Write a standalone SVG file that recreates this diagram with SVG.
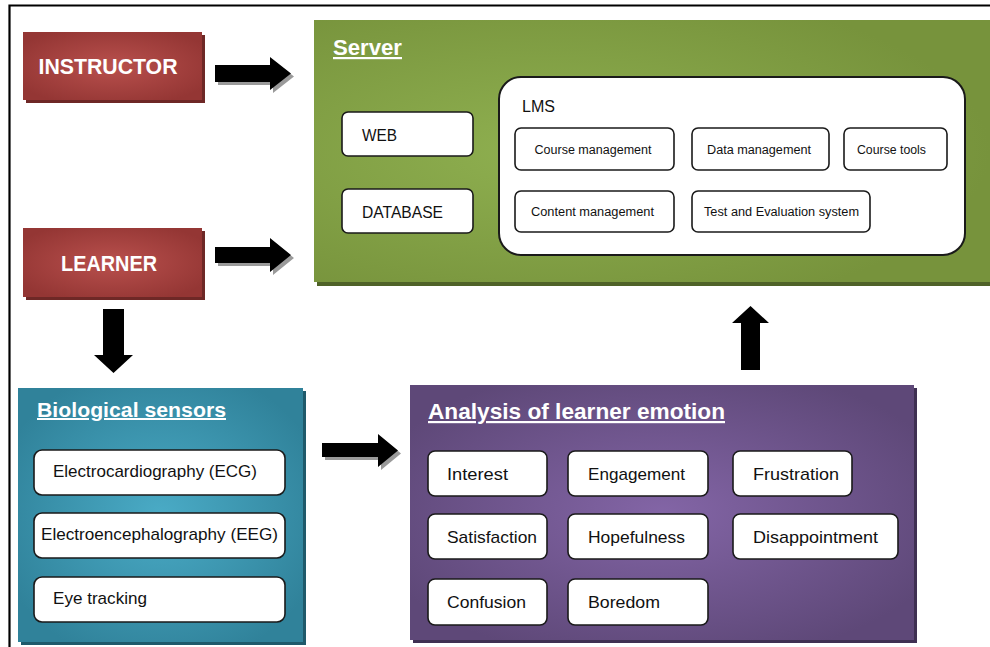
<svg xmlns="http://www.w3.org/2000/svg" width="990" height="647" viewBox="0 0 990 647">
<defs>
<radialGradient id="gRed" cx="50%" cy="50%" r="60%"><stop offset="0" stop-color="#b9504d"/><stop offset="1" stop-color="#943634"/></radialGradient>
<radialGradient id="gGreen" cx="35%" cy="50%" r="65%"><stop offset="0" stop-color="#8fb050"/><stop offset="1" stop-color="#77933c"/></radialGradient>
<radialGradient id="gTeal" cx="50%" cy="50%" r="60%"><stop offset="0" stop-color="#4aabc6"/><stop offset="1" stop-color="#30829a"/></radialGradient>
<radialGradient id="gPurple" cx="50%" cy="50%" r="60%"><stop offset="0" stop-color="#8365a6"/><stop offset="1" stop-color="#5e4878"/></radialGradient>
<style>
.lbl{font-family:"Liberation Sans",Arial,sans-serif;fill:#111}
.big{font-family:"Liberation Sans",Arial,sans-serif;font-weight:bold;fill:#fff}
.ttl{font-family:"Liberation Sans",Arial,sans-serif;font-weight:bold;fill:#fff;text-decoration:underline}
.box{fill:#fff;stroke:#1a1a1a;stroke-width:1.6}
.arr{fill:#000}
.ash{fill:#9a9a9a}
</style>
</defs>
<rect x="0" y="0" width="990" height="647" fill="#fff"/>
<path d="M9.5,647 V5.5 H990" fill="none" stroke="#000" stroke-width="2.2"/>

<g id="instructor">
<rect x="26" y="35" width="179" height="68" fill="#6e2826"/>
<rect x="23" y="32" width="179" height="68" fill="url(#gRed)"/>
<text class="big" x="108" y="74" font-size="22" text-anchor="middle" textLength="139" lengthAdjust="spacingAndGlyphs">INSTRUCTOR</text>
</g>
<g id="learner">
<rect x="26" y="231" width="179" height="69" fill="#6e2826"/>
<rect x="23" y="228" width="179" height="69" fill="url(#gRed)"/>
<text class="big" x="109" y="271" font-size="22" text-anchor="middle" textLength="96" lengthAdjust="spacingAndGlyphs">LEARNER</text>
</g>

<g id="server">
<rect x="317" y="23" width="673" height="263" fill="#4f6228"/>
<rect x="314" y="20" width="676" height="262" fill="url(#gGreen)"/>
<text class="ttl" x="333" y="55" font-size="22" textLength="69" lengthAdjust="spacingAndGlyphs">Server</text>
<g id="web"><rect class="box" x="342" y="112" width="131" height="44" rx="6"/>
<text class="lbl" x="362" y="141" font-size="16" textLength="35" lengthAdjust="spacingAndGlyphs">WEB</text></g>
<g id="database"><rect class="box" x="342" y="189" width="131" height="44" rx="6"/>
<text class="lbl" x="362" y="218" font-size="16" textLength="81" lengthAdjust="spacingAndGlyphs">DATABASE</text></g>
<g id="lms"><rect x="499" y="77" width="466" height="178" rx="22" fill="#fff" stroke="#1a1a1a" stroke-width="2"/>
<text class="lbl" x="522" y="112" font-size="16" textLength="33" lengthAdjust="spacingAndGlyphs">LMS</text></g>
<g id="course-management"><rect class="box" x="515" y="128" width="159" height="42" rx="6"/>
<text class="lbl" x="593" y="154" font-size="12.5" text-anchor="middle" textLength="117" lengthAdjust="spacingAndGlyphs">Course management</text></g>
<g id="data-management"><rect class="box" x="692" y="128" width="137" height="42" rx="6"/>
<text class="lbl" x="759" y="154" font-size="12.5" text-anchor="middle" textLength="104" lengthAdjust="spacingAndGlyphs">Data management</text></g>
<g id="course-tools"><rect class="box" x="844" y="128" width="103" height="42" rx="6"/>
<text class="lbl" x="891.5" y="154" font-size="12.5" text-anchor="middle" textLength="69" lengthAdjust="spacingAndGlyphs">Course tools</text></g>
<g id="content-management"><rect class="box" x="515" y="191" width="159" height="41" rx="6"/>
<text class="lbl" x="592.5" y="216" font-size="12.5" text-anchor="middle" textLength="123" lengthAdjust="spacingAndGlyphs">Content management</text></g>
<g id="test-evaluation"><rect class="box" x="692" y="191" width="178" height="41" rx="6"/>
<text class="lbl" x="781.5" y="216" font-size="12.5" text-anchor="middle" textLength="155" lengthAdjust="spacingAndGlyphs">Test and Evaluation system</text></g>
</g>

<g id="biological-sensors">
<rect x="21" y="391" width="285" height="254" fill="#1f5a6b"/>
<rect x="18" y="388" width="285" height="254" fill="url(#gTeal)"/>
<text class="ttl" x="37" y="417" font-size="20" textLength="189" lengthAdjust="spacingAndGlyphs">Biological sensors</text>
<g id="ecg"><rect class="box" x="34" y="450" width="251" height="45" rx="8"/>
<text class="lbl" x="53" y="477" font-size="17" textLength="204" lengthAdjust="spacingAndGlyphs">Electrocardiography (ECG)</text></g>
<g id="eeg"><rect class="box" x="34" y="513" width="251" height="45" rx="8"/>
<text class="lbl" x="41" y="540" font-size="17" textLength="237" lengthAdjust="spacingAndGlyphs">Electroencephalography (EEG)</text></g>
<g id="eye-tracking"><rect class="box" x="34" y="577" width="251" height="45" rx="8"/>
<text class="lbl" x="53" y="604" font-size="17" textLength="94" lengthAdjust="spacingAndGlyphs">Eye tracking</text></g>
</g>

<g id="analysis">
<rect x="413" y="388" width="504" height="255" fill="#3f3052"/>
<rect x="410" y="385" width="504" height="255" fill="url(#gPurple)"/>
<text class="ttl" x="428" y="419" font-size="22" textLength="297" lengthAdjust="spacingAndGlyphs">Analysis of learner emotion</text>
<g id="interest"><rect class="box" x="428" y="451" width="119" height="45" rx="7"/>
<text class="lbl" x="447" y="480" font-size="17" textLength="61" lengthAdjust="spacingAndGlyphs">Interest</text></g>
<g id="engagement"><rect class="box" x="568" y="451" width="140" height="45" rx="7"/>
<text class="lbl" x="588" y="480" font-size="17" textLength="97" lengthAdjust="spacingAndGlyphs">Engagement</text></g>
<g id="frustration"><rect class="box" x="733" y="451" width="119" height="45" rx="7"/>
<text class="lbl" x="753" y="480" font-size="17" textLength="86" lengthAdjust="spacingAndGlyphs">Frustration</text></g>
<g id="satisfaction"><rect class="box" x="428" y="514" width="119" height="45" rx="7"/>
<text class="lbl" x="447" y="543" font-size="17" textLength="90" lengthAdjust="spacingAndGlyphs">Satisfaction</text></g>
<g id="hopefulness"><rect class="box" x="568" y="514" width="140" height="45" rx="7"/>
<text class="lbl" x="588" y="543" font-size="17" textLength="97" lengthAdjust="spacingAndGlyphs">Hopefulness</text></g>
<g id="disappointment"><rect class="box" x="733" y="514" width="165" height="45" rx="7"/>
<text class="lbl" x="753" y="543" font-size="17" textLength="125" lengthAdjust="spacingAndGlyphs">Disappointment</text></g>
<g id="confusion"><rect class="box" x="428" y="579" width="119" height="46" rx="7"/>
<text class="lbl" x="447" y="608" font-size="17" textLength="79" lengthAdjust="spacingAndGlyphs">Confusion</text></g>
<g id="boredom"><rect class="box" x="568" y="579" width="140" height="46" rx="7"/>
<text class="lbl" x="588" y="608" font-size="17" textLength="72" lengthAdjust="spacingAndGlyphs">Boredom</text></g>
</g>

<g id="connectors">
<polygon class="ash" points="218,68 273,68 273,60 294,76.5 273,93 273,85 218,85"/>
<polygon class="arr" points="215,65 270,65 270,57 291,73.5 270,90 270,82 215,82"/>
<polygon class="ash" points="218,250 273,250 273,241 294,258 273,275 273,266 218,266"/>
<polygon class="arr" points="215,247 270,247 270,238 291,255 270,272 270,263 215,263"/>
<polygon class="ash" points="325,446 381,446 381,437 401,453.5 381,470 381,460 325,460"/>
<polygon class="arr" points="322,443 378,443 378,434 398,450.5 378,467 378,457 322,457"/>
<polygon class="arr" points="103,309 124,309 124,355 133,355 113.5,373 94,355 103,355"/>
<polygon class="arr" points="741,370 760,370 760,323 769,323 750.5,306 732,323 741,323"/>
</g>
</svg>
